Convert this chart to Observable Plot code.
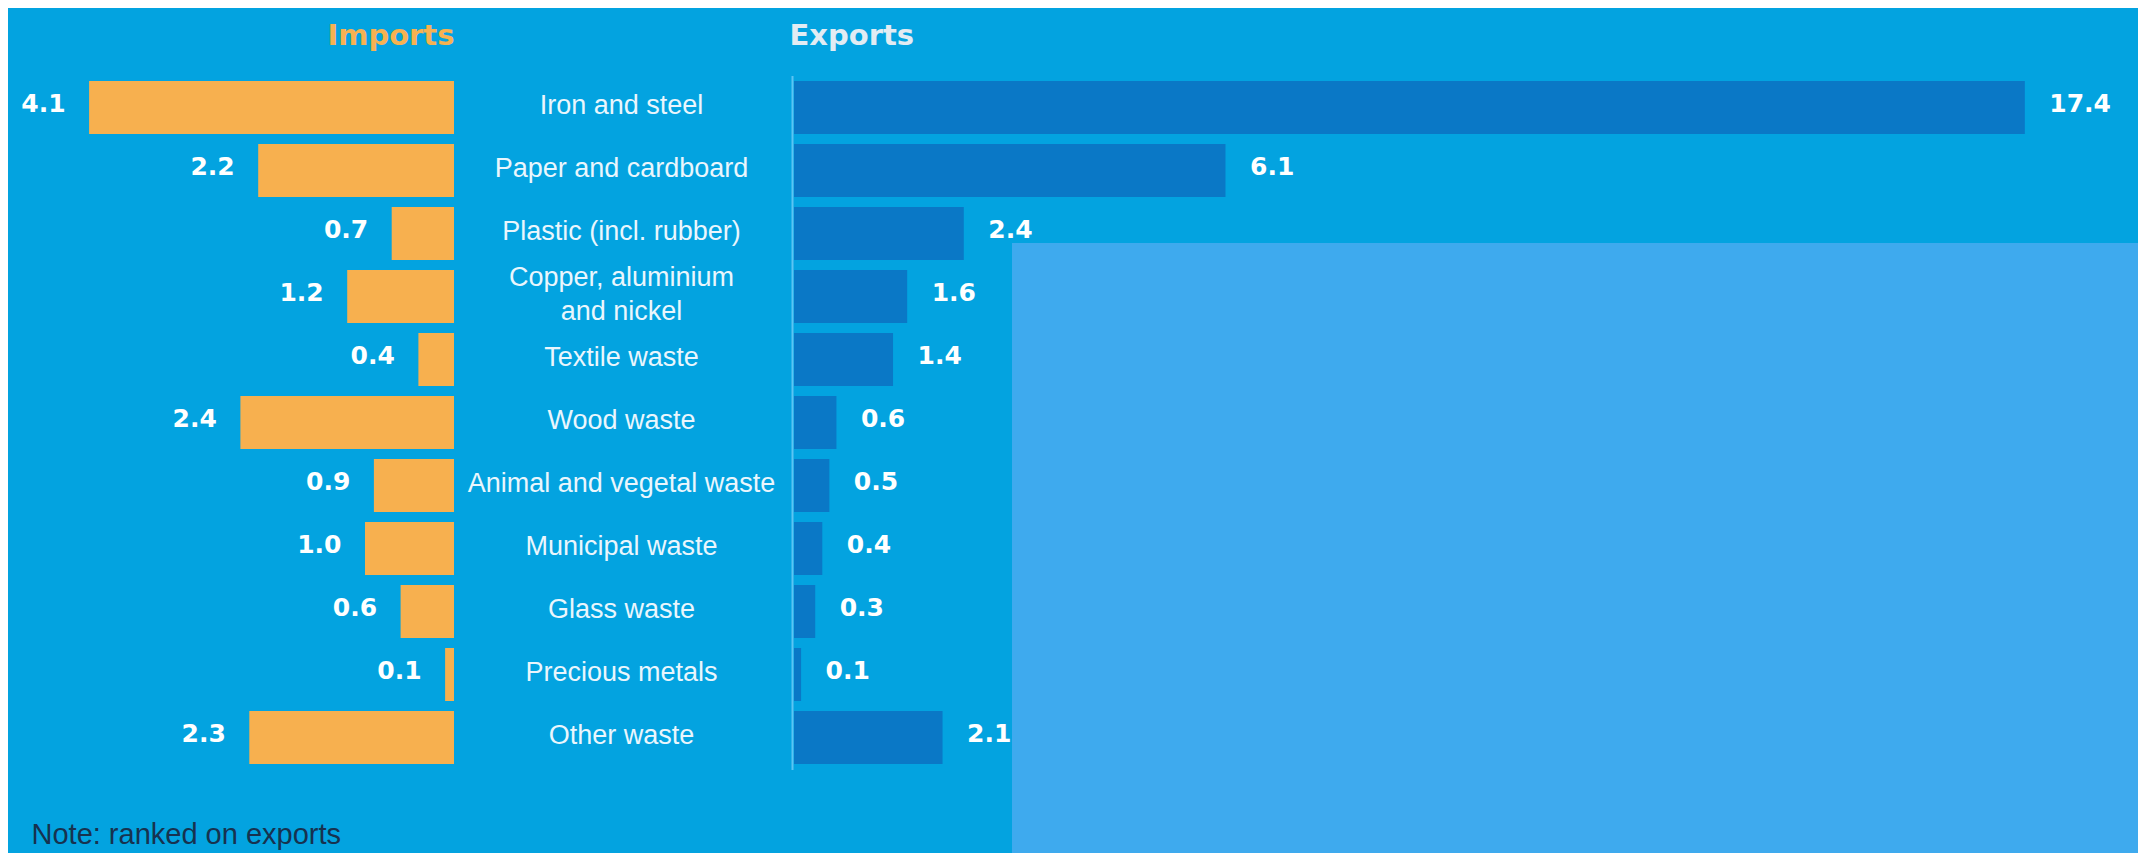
<!DOCTYPE html>
<html>
<head>
<meta charset="utf-8">
<script src="https://cdn.jsdelivr.net/npm/d3@7"></script>
<script src="https://cdn.jsdelivr.net/npm/@observablehq/plot@0.6"></script>
<style>
  html, body { margin: 0; padding: 0; background: #ffffff; }
  #wrap { position: relative; width: 2138px; height: 853px; overflow: hidden; }
  #panel { position: absolute; left: 8px; top: 8px; width: 2130px; height: 845px; background: #03a3e0; }
  .layer { position: absolute; left: 0; top: 0; }
  #cover { position: absolute; left: 1012px; top: 243px; width: 1126px; height: 610px; background: #3eaaee; }
</style>
</head>
<body>
<div id="wrap">
  <div id="panel"></div>
  <div id="imp" class="layer"></div>
  <div id="exp" class="layer"></div>
  <div id="cover"></div>
</div>
<script>
// ---- data (values in million tonnes) ----
const categories = [
  "Iron and steel",
  "Paper and cardboard",
  "Plastic (incl. rubber)",
  "Copper, aluminium\nand nickel",
  "Textile waste",
  "Wood waste",
  "Animal and vegetal waste",
  "Municipal waste",
  "Glass waste",
  "Precious metals",
  "Other waste"
];
const importValues = [4.1, 2.2, 0.7, 1.2, 0.4, 2.4, 0.9, 1.0, 0.6, 0.1, 2.3];
const exportValues = [17.4, 6.1, 2.4, 1.6, 1.4, 0.6, 0.5, 0.4, 0.3, 0.1, 2.1];
const panelTitles = ["Imports", "Exports"];
const noteText = ["Note: ranked on exports"];

const rows = categories.map((cat, i) => ({cat, imp: importValues[i], exp: exportValues[i]}));
const fmt = d3.format(".1f");

const W = 2138, H = 853;
const common = {
  width: W, height: H,
  marginTop: 66, marginBottom: 75,
  style: {background: "none", overflow: "visible"}
};
const yScale = {domain: categories, padding: 0.16, axis: null};
const valueFont = {fill: "#ffffff", fontFamily: "DejaVu Sans", fontWeight: "bold", fontSize: 25, dy: -4};
const labelFont = {fill: "#eaf6fd", fontFamily: "Liberation Sans", fontSize: 27, dy: -5};

// ---- Imports (left) + category labels + note ----
const importsPlot = Plot.plot({
  ...common,
  marginLeft: 9, marginRight: W - 454,
  x: {domain: [0, 5], reverse: true, axis: null},
  y: yScale,
  marks: [
    Plot.barX(rows, {x: "imp", y: "cat", fill: "#f7b04f"}),
    Plot.text(rows, {x: "imp", y: "cat", text: d => fmt(d.imp), textAnchor: "end", dx: -24, ...valueFont}),
    Plot.text(rows, {y: "cat", text: "cat", frameAnchor: "right", textAnchor: "middle", dx: 167, lineHeight: 1.26, ...labelFont}),
    Plot.text([panelTitles[0]], {x: () => 0, text: d => d, frameAnchor: "top", textAnchor: "end", dy: -42,
      fill: "#f6b251", fontFamily: "DejaVu Sans", fontWeight: "bold", fontSize: 29}),
    Plot.text(noteText, {text: d => d, frameAnchor: "bottom-left", textAnchor: "start", dx: 22, dy: 65,
      fill: "#17324f", fontFamily: "Liberation Sans", fontSize: 29})
  ]
});
document.getElementById("imp").appendChild(importsPlot);

// ---- Exports (right) ----
const exportsPlot = Plot.plot({
  ...common,
  marginLeft: 794, marginRight: 0,
  x: {domain: [0, 19], axis: null},
  y: yScale,
  marks: [
    Plot.ruleX([0], {stroke: "#5cc4f3", strokeWidth: 2, dx: -2, insetTop: 10, insetBottom: 8}),
    Plot.barX(rows, {x: "exp", y: "cat", fill: "#0a78c6"}),
    Plot.text(rows, {x: "exp", y: "cat", text: d => fmt(d.exp), textAnchor: "start", dx: 24, ...valueFont}),
    Plot.text([panelTitles[1]], {x: () => 0, text: d => d, frameAnchor: "top", textAnchor: "start", dx: -5, dy: -42,
      fill: "#e2ecf3", fontFamily: "DejaVu Sans", fontWeight: "bold", fontSize: 29})
  ]
});
document.getElementById("exp").appendChild(exportsPlot);
</script>
</body>
</html>
